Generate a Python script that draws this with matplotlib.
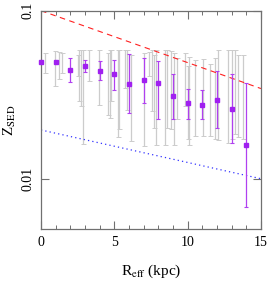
import matplotlib
matplotlib.use("Agg")
import matplotlib.pyplot as plt
import numpy as np

plt.rcParams['font.family'] = ['Liberation Serif', 'DejaVu Serif']
plt.rcParams['mathtext.fontset'] = 'stix'

# Individual galaxies (grey): radius, lower and upper bound of Z_SED
grey_r = [0.27, 0.93, 1.23, 1.43, 2.5, 2.6, 2.7, 2.87, 3.27, 3.93, 4.55, 4.7, 4.8,
          5.25, 5.35, 5.7, 5.87, 6.14, 7.0, 7.34, 7.57, 7.72, 7.85, 8.47, 8.58,
          8.84, 9.04, 9.27, 9.8, 10.0, 10.1, 10.47, 11.08, 11.56, 11.88, 12.04,
          12.75, 13.06, 13.25, 13.43, 13.75]
grey_lo = [0.0426, 0.0358, 0.0393, 0.0426, 0.0407, 0.0292, 0.0270, 0.0162, 0.0380,
           0.0276, 0.0241, 0.0231, 0.0289, 0.0176, 0.0197, 0.0347, 0.0258, 0.0168,
           0.0157, 0.0407, 0.0253, 0.0201, 0.0158, 0.0158, 0.0201, 0.0197, 0.0158,
           0.0226, 0.0270, 0.0173, 0.0158, 0.0180, 0.0180, 0.0180, 0.0172, 0.0169,
           0.0164, 0.0172, 0.0184, 0.0176, 0.0172]
grey_hi = [0.0560, 0.0577, 0.0569, 0.0562, 0.0542, 0.0585, 0.0585, 0.0580, 0.0580,
           0.0585, 0.0560, 0.0585, 0.0585, 0.0585, 0.0585, 0.0585, 0.0585, 0.0547,
           0.0560, 0.0564, 0.0585, 0.0547, 0.0585, 0.0580, 0.0580, 0.0572, 0.0560,
           0.0523, 0.0560, 0.0471, 0.0530, 0.0511, 0.0516, 0.0484, 0.0523, 0.0580,
           0.0585, 0.0580, 0.0580, 0.0547, 0.0542]

# Binned values (purple)
bin_r = [0, 1, 2, 3, 4, 5, 6, 7, 8, 9, 10, 11, 12, 13, 14]
bin_z = [0.0495, 0.0495, 0.0444, 0.0469, 0.0440, 0.0418, 0.0368, 0.0385, 0.0372,
         0.0310, 0.0282, 0.0274, 0.0293, 0.0261, 0.0158]
bin_lo = [0.0490, 0.0490, 0.0375, 0.0430, 0.0385, 0.0338, 0.0245, 0.0283, 0.0228,
          0.0228, 0.0226, 0.0226, 0.0199, 0.0164, 0.00677]
bin_hi = [0.0500, 0.0500, 0.0525, 0.0506, 0.0502, 0.0510, 0.0549, 0.0523, 0.0499,
          0.0422, 0.0340, 0.0336, 0.0436, 0.0418, 0.0372]

# Reference lines (endpoints)
line_r = [0, 15]
red_z = [0.1, 0.0344]
blue_z = [0.0195, 0.0100]

fig = plt.figure(figsize=(2.69, 2.81), dpi=100)
ax = fig.add_axes([0.1524, 0.184, 0.8176, 0.778])

gr = np.array(grey_r); glo = np.array(grey_lo); ghi = np.array(grey_hi)
gmid = np.sqrt(glo * ghi)
ax.errorbar(gr, gmid, yerr=[gmid - glo, ghi - gmid], fmt='none',
            ecolor='#cccccc', elinewidth=0.9, capsize=1.8, capthick=0.7, zorder=1)

bz = np.array(bin_z)
ax.errorbar(bin_r, bz, yerr=[bz - np.array(bin_lo), np.array(bin_hi) - bz],
            fmt='s', color='#a020f0', ecolor='#b040f0', ms=2.9, elinewidth=0.9,
            capsize=1.6, capthick=0.8, zorder=3, clip_on=False)

ax.plot(line_r, red_z, color='#ff2020', ls=(0, (5, 4)), lw=0.8, zorder=2)
ax.plot(line_r, blue_z, color='#3333ff', ls=(0, (1, 2.5)), lw=0.9, zorder=2)

ax.set_yscale('log')
ax.set_xlim(0, 15)
ax.set_ylim(0.005, 0.1)
ax.set_yticks([0.01, 0.1])
ax.set_yticklabels(['0.01', '0.1'], rotation=90, va='center')
ax.yaxis.set_minor_locator(matplotlib.ticker.NullLocator())
ax.set_xticks([0, 5, 10, 15])
ax.set_xticks(np.arange(0, 16, 1), minor=True)

for s in ax.spines.values():
    s.set_color('#707070')
    s.set_linewidth(0.9)
ax.tick_params(which='both', direction='in', top=True, right=True,
               color='#707070', labelsize=10, pad=5)
ax.tick_params(which='major', length=6, width=0.8)
ax.tick_params(which='minor', length=3, width=0.7)

ax.set_xlabel(r'R$_{\rm eff}$ (kpc)', fontsize=11, labelpad=10)
ax.set_ylabel(r'Z$_{\rm SED}$', fontsize=11, labelpad=2)

fig.savefig('out.png', dpi=100)
